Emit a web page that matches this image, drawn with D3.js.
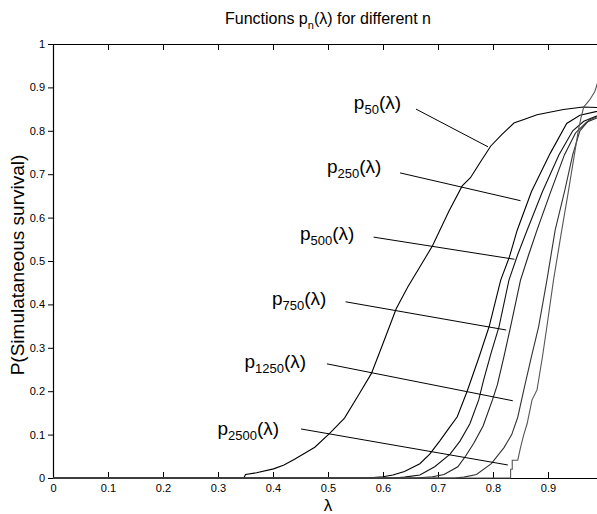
<!DOCTYPE html>
<html>
<head>
<meta charset="utf-8">
<script src="https://cdn.jsdelivr.net/npm/d3@7"></script>
<style>
  body { margin: 0; background: #fff; }
  text { font-family: "Liberation Sans", Arial, Helvetica, sans-serif; }
</style>
</head>
<body>
<script>
var width = 597;
var height = 514;

// tick values and labels
var xTicks = [0, 0.1, 0.2, 0.3, 0.4, 0.5, 0.6, 0.7, 0.8, 0.9];
var xTickLabels = ["0", "0.1", "0.2", "0.3", "0.4", "0.5", "0.6", "0.7", "0.8", "0.9"];
var yTicks = [0, 0.1, 0.2, 0.3, 0.4, 0.5, 0.6, 0.7, 0.8, 0.9, 1];
var yTickLabels = ["0", "0.1", "0.2", "0.3", "0.4", "0.5", "0.6", "0.7", "0.8", "0.9", "1"];

// curves: [lambda, p]
var p50 = [[0,0],[0.347,0],[0.35,0.008],[0.37,0.012],[0.401,0.021],[0.42,0.03],[0.44,0.044],[0.476,0.071],
  [0.503,0.103],[0.53,0.138],[0.555,0.19],[0.579,0.241],[0.60,0.31],[0.624,0.39],[0.645,0.44],[0.665,0.482],
  [0.69,0.535],[0.72,0.615],[0.744,0.673],[0.759,0.692],[0.778,0.73],[0.796,0.765],[0.815,0.79],[0.838,0.818],
  [0.86,0.828],[0.88,0.837],[0.928,0.849],[0.964,0.855],[1.0,0.853]];
var p250 = [[0,0],[0.57,0],[0.60,0.003],[0.618,0.007],[0.639,0.015],[0.667,0.033],[0.685,0.055],[0.703,0.085],
  [0.72,0.115],[0.735,0.141],[0.753,0.2],[0.775,0.28],[0.793,0.349],[0.814,0.456],[0.83,0.51],[0.844,0.571],
  [0.87,0.66],[0.904,0.748],[0.934,0.817],[0.958,0.836],[1.0,0.848]];
var p500 = [[0,0],[0.62,0],[0.639,0.002],[0.667,0.007],[0.694,0.026],[0.722,0.055],[0.74,0.085],[0.758,0.125],
  [0.774,0.18],[0.783,0.226],[0.797,0.29],[0.811,0.349],[0.829,0.456],[0.845,0.515],[0.862,0.571],[0.89,0.66],
  [0.92,0.745],[0.945,0.80],[0.965,0.822],[1.0,0.84]];
var p750 = [[0,0],[0.66,0],[0.69,0.003],[0.711,0.008],[0.736,0.026],[0.75,0.05],[0.765,0.08],[0.782,0.12],
  [0.799,0.18],[0.808,0.215],[0.82,0.28],[0.832,0.349],[0.85,0.456],[0.865,0.515],[0.88,0.571],[0.905,0.66],
  [0.93,0.745],[0.95,0.795],[0.97,0.82],[1.0,0.835]];
var p1250 = [[0,0],[0.73,0],[0.747,0.002],[0.77,0.008],[0.797,0.033],[0.82,0.07],[0.834,0.1],[0.845,0.14],
  [0.856,0.203],[0.87,0.28],[0.883,0.349],[0.898,0.456],[0.913,0.571],[0.93,0.66],[0.945,0.745],[0.958,0.80],
  [0.975,0.825],[1.0,0.838]];
var p2500 = [[0,0],[0.832,0],[0.832,0.02],[0.835,0.02],[0.835,0.041],[0.845,0.041],[0.85,0.07],[0.856,0.1],
  [0.862,0.125],[0.871,0.18],[0.88,0.203],[0.89,0.28],[0.898,0.349],[0.91,0.456],[0.925,0.571],[0.937,0.66],
  [0.948,0.745],[0.955,0.8],[0.96,0.83],[0.965,0.855],[0.975,0.87],[0.985,0.89],[0.99,0.91],[1.0,0.925]];

// label names and where they sit: text [lambda, p], leader line from/to [lambda, p]
var labelSubs = ["50", "250", "500", "750", "1250", "2500"];
var labelPos = [[0.547,0.85],[0.498,0.703],[0.449,0.548],[0.398,0.399],[0.348,0.253],[0.299,0.099]];
var leaderFrom = [[0.66,0.85],[0.631,0.703],[0.583,0.555],[0.532,0.406],[0.498,0.263],[0.451,0.113]];
var leaderTo = [[0.791,0.763],[0.85,0.639],[0.839,0.504],[0.824,0.341],[0.836,0.178],[0.827,0.03]];

var curves = [p50, p250, p500, p750, p1250, p2500];
var curveColors = ["#000", "#000", "#111", "#222", "#333", "#555"];

var svg = d3.select("body")
            .append("svg")
            .attr("width", width)
            .attr("height", height);

var x = d3.scaleLinear().domain([0, 1]).range([53, 603]);
var y = d3.scaleLinear().domain([0, 1]).range([478, 44]);

//axes, matlab style box
var bottom = svg.append("g")
    .attr("transform", "translate(0," + y(0) + ")")
    .call(d3.axisBottom(x).tickValues(xTicks).tickSizeInner(-6).tickSizeOuter(0).tickPadding(6)
      .tickFormat(function(d, i) { return xTickLabels[i]; }));
var left = svg.append("g")
    .attr("transform", "translate(" + x(0) + ",0)")
    .call(d3.axisLeft(y).tickValues(yTicks).tickSizeInner(5).tickSizeOuter(0).tickPadding(3)
      .tickFormat(function(d, i) { return yTickLabels[i]; }));
var top = svg.append("g")
    .attr("transform", "translate(0," + y(1) + ")")
    .call(d3.axisTop(x).tickValues(xTicks).tickSizeInner(-6).tickSizeOuter(0).tickFormat(""));

svg.selectAll(".domain").attr("stroke", "#000").attr("stroke-width", 1.2);
svg.selectAll(".tick line").attr("stroke", "#000");
svg.selectAll(".tick text").attr("font-size", 11).attr("fill", "#000")
   .style("font-family", "'Liberation Sans', Arial, sans-serif");

//curves
var line = d3.line()
    .x(function(d) { return x(d[0]); })
    .y(function(d) { return y(d[1]); });

svg.selectAll("path.curve")
   .data(curves)
   .enter()
   .append("path")
   .attr("class", "curve")
   .attr("d", line)
   .attr("fill", "none")
   .attr("stroke", function(d, i) { return curveColors[i]; })
   .attr("stroke-width", 1.1);

//leader lines
svg.selectAll("line.leader")
   .data(labelSubs)
   .enter()
   .append("line")
   .attr("class", "leader")
   .attr("x1", function(d, i) { return x(leaderFrom[i][0]); })
   .attr("y1", function(d, i) { return y(leaderFrom[i][1]); })
   .attr("x2", function(d, i) { return x(leaderTo[i][0]); })
   .attr("y2", function(d, i) { return y(leaderTo[i][1]); })
   .attr("stroke", "#000")
   .attr("stroke-width", 1);

//curve labels p_n(lambda)
var labels = svg.selectAll("text.lab")
   .data(labelSubs)
   .enter()
   .append("text")
   .attr("class", "lab")
   .attr("x", function(d, i) { return x(labelPos[i][0]); })
   .attr("y", function(d, i) { return y(labelPos[i][1]); })
   .attr("font-size", 19);
labels.append("tspan").text("p");
labels.append("tspan").attr("font-size", 13).attr("dy", 5).text(function(d) { return d; });
labels.append("tspan").attr("dy", -5).text("(\u03bb)");

//title
var title = svg.append("text")
   .attr("x", 328)
   .attr("y", 24)
   .attr("text-anchor", "middle")
   .attr("font-size", 16);
title.append("tspan").text("Functions p");
title.append("tspan").attr("font-size", 11).attr("dy", 5).text("n");
title.append("tspan").attr("dy", -5).text("(\u03bb) for different n");

//axis labels
svg.append("text")
   .attr("x", 328)
   .attr("y", 511)
   .attr("text-anchor", "middle")
   .attr("font-size", 17)
   .text("\u03bb");

svg.append("text")
   .attr("transform", "translate(24,265) rotate(-90)")
   .attr("text-anchor", "middle")
   .attr("font-size", 19)
   .text("P(Simulataneous survival)");
</script>
</body>
</html>
